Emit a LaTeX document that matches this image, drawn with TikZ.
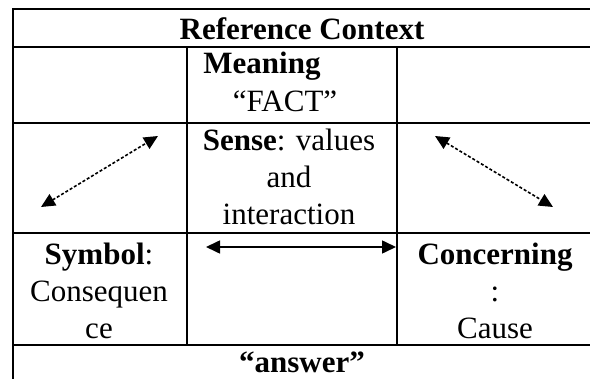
\documentclass[tikz,border=0pt]{standalone}
\usepackage{fontspec}
\setmainfont{Liberation Serif}
\usetikzlibrary{arrows.meta}

\begin{document}
\begin{tikzpicture}[x=0.5pt,y=-0.5pt,
  celltext/.style={inner sep=0,font=\fontsize{15.5}{18.4}\selectfont,align=center},
  rule/.style={line width=1.3pt},
  dotarrow/.style={{Triangle[length=7pt,width=6.5pt]}-{Triangle[length=7pt,width=6.5pt]},line width=0.8pt,dash pattern=on 1.5pt off 1pt},
  solidarrow/.style={{Triangle[length=7pt,width=6.5pt]}-{Triangle[length=7pt,width=6.5pt]},line width=0.8pt}]

\clip (0,0) rectangle (590,379);

% table rules
\draw[rule] (13,9) rectangle (591,383);
\draw[rule] (13,47) -- (591,47);
\draw[rule] (13,123) -- (591,123);
\draw[rule] (13,233) -- (591,233);
\draw[rule] (13,345) -- (591,345);
\draw[rule] (187,47) -- (187,345);
\draw[rule] (397,47) -- (397,345);

% cell texts
\node[celltext,anchor=base] (title) at (302,40) {\textbf{Reference Context}};
\node[celltext,anchor=base west] (meaning) at (203,74) {\textbf{Meaning}};
\node[celltext,anchor=base] (fact) at (285,112) {“FACT”};
\node[celltext,anchor=north] (sense) at (289,129) {\textbf{Sense}: values\\and\\interaction};
\node[celltext,anchor=north] (symbol) at (99,243) {\textbf{Symbol}:\\Consequen\\ce};
\node[celltext,anchor=north] (concerning) at (495,243) {\textbf{Concerning}\\:\\Cause};
\node[celltext,anchor=base] (answer) at (302,373) {\textbf{“answer”}};

% arrow ends
\coordinate (la) at (41,207);
\coordinate (lb) at (158,136);
\coordinate (ra) at (435,136);
\coordinate (rb) at (553,207);
\coordinate (ha) at (206,247);
\coordinate (hb) at (396,247);

\draw[dotarrow] (la) -- (lb);
\draw[dotarrow] (ra) -- (rb);
\draw[solidarrow] (ha) -- (hb);

\end{tikzpicture}
\end{document}
